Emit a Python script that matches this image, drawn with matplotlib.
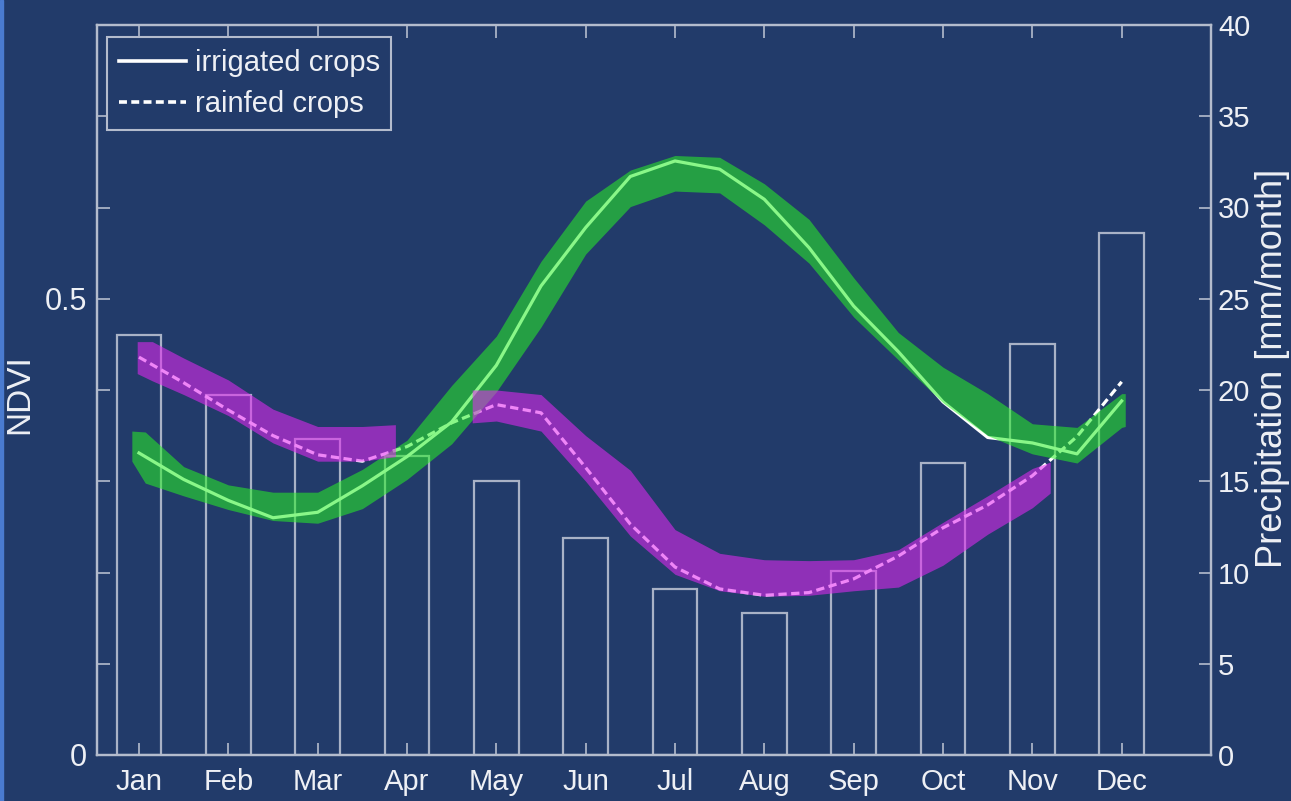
import numpy as np
import matplotlib
matplotlib.use('Agg')
import matplotlib.pyplot as plt
import matplotlib.patches as mpatches
from matplotlib.lines import Line2D

# monthly precipitation (right axis)
months = ['Jan', 'Feb', 'Mar', 'Apr', 'May', 'Jun', 'Jul', 'Aug', 'Sep', 'Oct', 'Nov', 'Dec']
precip = [23.0, 19.7, 17.3, 16.4, 15.0, 11.9, 9.1, 7.8, 10.1, 16.0, 22.5, 28.6]

# NDVI curves sampled every half month (1 = Jan ... 12 = Dec)
ndvi_x = [1, 1.5, 2, 2.5, 3, 3.5, 4, 4.5, 5, 5.5, 6, 6.5, 7, 7.5, 8, 8.5, 9, 9.5, 10, 10.5, 11, 11.5, 12]
irrigated = [0.331, 0.302, 0.279, 0.260, 0.266, 0.295, 0.327, 0.365, 0.427, 0.514, 0.578, 0.634,
             0.651, 0.642, 0.609, 0.556, 0.492, 0.442, 0.387, 0.348, 0.342, 0.330, 0.388]
rainfed = [0.436, 0.408, 0.378, 0.350, 0.329, 0.322, 0.338, 0.364, 0.384, 0.375, 0.315, 0.253,
           0.206, 0.182, 0.175, 0.178, 0.193, 0.218, 0.249, 0.274, 0.306, 0.349, 0.409]

# spread bands
irr_band_x = [0.92, 1.07, 1.5, 2, 2.5, 3, 3.5, 4, 4.5, 5, 5.5, 6, 6.5, 7, 7.5, 8, 8.5, 9, 9.5, 10,
              10.5, 11, 11.5, 12, 12.04]
irr_upper = [0.355, 0.354, 0.316, 0.296, 0.288, 0.288, 0.313, 0.345, 0.405, 0.459, 0.541, 0.607,
             0.641, 0.657, 0.655, 0.626, 0.587, 0.523, 0.463, 0.425, 0.396, 0.363, 0.359, 0.396, 0.396]
irr_lower = [0.322, 0.298, 0.284, 0.269, 0.257, 0.254, 0.270, 0.302, 0.341, 0.398, 0.469, 0.549,
             0.601, 0.618, 0.616, 0.581, 0.539, 0.480, 0.433, 0.386, 0.350, 0.330, 0.320, 0.359, 0.360]

rain1_x = [0.98, 1.15, 1.5, 2, 2.5, 3, 3.5, 3.87]
rain1_upper = [0.453, 0.453, 0.435, 0.411, 0.379, 0.360, 0.360, 0.362]
rain1_lower = [0.418, 0.410, 0.395, 0.372, 0.342, 0.322, 0.322, 0.327]

rain2_x = [4.73, 5, 5.5, 6, 6.5, 7, 7.5, 8, 8.5, 9, 9.5, 10, 10.5, 11, 11.2]
rain2_upper = [0.400, 0.400, 0.395, 0.350, 0.312, 0.247, 0.221, 0.214, 0.213, 0.214, 0.225, 0.255,
               0.284, 0.314, 0.321]
rain2_lower = [0.364, 0.366, 0.355, 0.300, 0.240, 0.198, 0.180, 0.174, 0.175, 0.180, 0.184, 0.208,
               0.242, 0.271, 0.287]

bg = '#223b6a'
fg = '#eef0f5'
edge = '#b4bccd'
bar_edge = '#a9b2c6'
green = (0.16, 0.95, 0.15)
purple = (0.89, 0.16, 0.95)

plt.rcParams['font.family'] = ['Liberation Sans', 'DejaVu Sans']

fig = plt.figure(figsize=(12.91, 8.01), dpi=100, facecolor=bg)
fig.patches.append(mpatches.Rectangle((0, 0), 3 / 1291, 1, transform=fig.transFigure,
                                      color='#4a7bd0', zorder=0))

ax = fig.add_axes([97 / 1291, 46 / 801, 1114 / 1291, 730 / 801])
ax2 = ax.twinx()
ax.set_zorder(ax2.get_zorder() + 1)
ax.patch.set_visible(False)
ax2.patch.set_visible(False)

month_pos = np.arange(1, len(months) + 1)
ax2.bar(month_pos, precip, width=0.5, facecolor='none', edgecolor=bar_edge, linewidth=1.6)

ax.plot(ndvi_x, irrigated, color='white', lw=2.3, zorder=2)
ax.plot(ndvi_x, rainfed, color='white', lw=2.3, dashes=(2.6, 1.4), zorder=2)
ax.fill_between(irr_band_x, irr_lower, irr_upper, color=green, alpha=0.55, lw=0, zorder=3)
ax.fill_between(rain1_x, rain1_lower, rain1_upper, color=purple, alpha=0.57, lw=0, zorder=3)
ax.fill_between(rain2_x, rain2_lower, rain2_upper, color=purple, alpha=0.57, lw=0, zorder=3)

ax.set_xlim(0.53, 13.0)
ax.set_ylim(0, 0.8)
ax2.set_ylim(0, 40)

ax.set_xticks(month_pos, months)
ax.set_yticks([0, 0.1, 0.2, 0.3, 0.4, 0.5, 0.6, 0.7, 0.8], ['0', '', '', '', '', '0.5', '', '', ''])
ax2.set_yticks([0, 5, 10, 15, 20, 25, 30, 35, 40])

ax.tick_params(axis='x', direction='in', top=True, length=9, width=1.2, color=edge,
               labelcolor=fg, labelsize=21, pad=9)
ax.tick_params(axis='y', direction='in', length=9, width=1.2, color=edge,
               labelcolor=fg, labelsize=22, pad=7)
ax2.tick_params(axis='y', direction='in', length=9, width=1.2, color=edge,
                labelcolor=fg, labelsize=21, pad=5)
for a in (ax, ax2):
    for s in a.spines.values():
        s.set_color(edge)
        s.set_linewidth(1.6)

fig.text(20 / 1291, 1 - 394 / 801, 'NDVI', rotation=90, ha='center', va='center',
         color=fg, fontsize=24)
fig.text(1273 / 1291, 1 - 368 / 801, 'Precipitation [mm/month]', rotation=90, ha='center',
         va='center', color=fg, fontsize=26)

handles = [Line2D([], [], color='white', lw=2.6),
           Line2D([], [], color='white', lw=2.6, dashes=(2.2, 1.2))]
leg = ax.legend(handles, ['irrigated crops', 'rainfed crops'], loc='upper left',
                bbox_to_anchor=(0.009, 0.983), frameon=True, fancybox=False, edgecolor=edge,
                facecolor=bg, framealpha=1, fontsize=21, handlelength=2.3, handletextpad=0.3,
                labelspacing=0.45, borderpad=0.4, borderaxespad=0)
leg.get_frame().set_linewidth(1.5)
for t in leg.get_texts():
    t.set_color(fg)

fig.savefig('out.png', dpi=100, facecolor=bg)
